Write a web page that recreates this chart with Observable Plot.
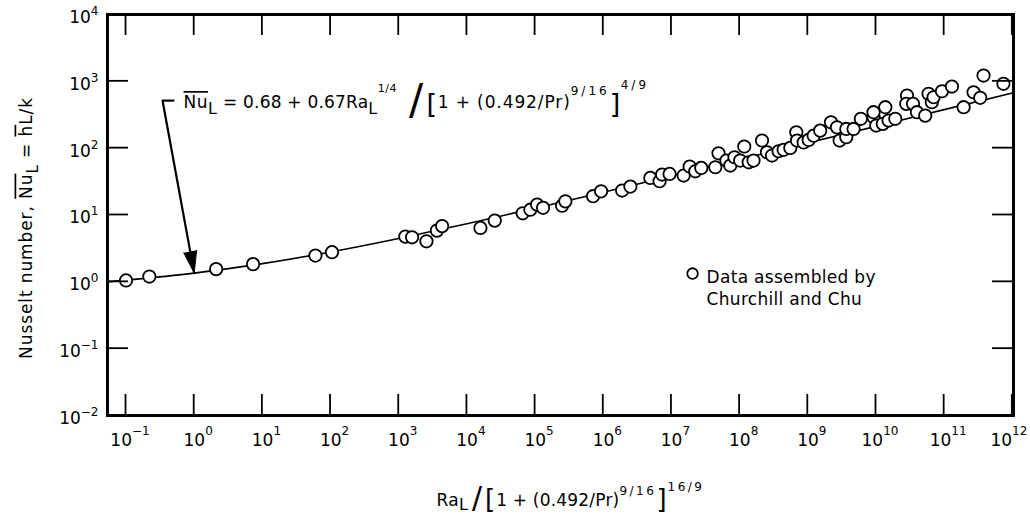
<!DOCTYPE html>
<html>
<head>
<meta charset="utf-8">
<script src="https://cdn.jsdelivr.net/npm/d3@7"></script>
<script src="https://cdn.jsdelivr.net/npm/@observablehq/plot@0.6"></script>
<style>
  html, body { margin: 0; padding: 0; background: #fff; }
  #chart svg { display: block; }
</style>
</head>
<body>
<div id="chart"></div>
<script>
// ---- data ----
const raValues = [0.1, 0.22, 2.1, 7.3, 60, 105, 1250, 1570, 2550, 3630, 4330, 15800, 25600, 65800, 85300, 107000, 131000, 249000, 278000, 708000, 929000, 1.89e6, 2.5e6,
  4.9e6, 6.7e6, 7.3e6, 9.4e6,
  1.51e7, 1.85e7, 2.24e7, 2.74e7, 4.4e7, 4.9e7, 6.4e7, 7.3e7, 8.4e7,
  1.02e8, 1.17e8, 1.36e8, 1.6e8, 2.13e8, 2.52e8, 2.99e8, 3.73e8, 4.42e8, 5.54e8, 6.78e8, 6.95e8, 8.7e8,
  1.03e9, 1.22e9, 1.52e9, 2.19e9, 2.68e9, 2.93e9, 3.67e9, 3.67e9, 4.69e9, 6.0e9, 9.2e9, 9.2e9,
  1.01e10, 1.26e10, 1.37e10, 1.53e10, 1.92e10, 2.85e10, 2.78e10, 3.49e10, 3.99e10, 5.28e10, 5.9e10, 6.6e10, 7.0e10, 9.3e10,
  1.3e11, 1.93e11, 2.7e11, 3.38e11, 3.78e11, 7.4e11];
const nuValues = [1.05, 1.2, 1.55, 1.84, 2.47, 2.78, 4.75, 4.64, 4.04, 5.84, 6.82, 6.41, 8.24, 10.6, 12.0, 14.3, 12.8, 13.8, 16.0, 19.1, 22.6, 23.2, 26.6,
  35.9, 32, 40.3, 41.2,
  38.9, 53.1, 45.1, 50.7, 51.8, 83.9, 65.2, 54.9, 73.1,
  65.2, 106, 61.5, 65.2, 130, 86.8, 77.5, 89.9, 94.4, 101, 173, 130, 122,
  133, 154, 183, 244, 205, 130, 146, 194, 194, 275, 290, 345,
  218, 231, 410, 259, 275, 613, 460, 460, 345, 307, 650, 487, 578, 711,
  836, 410, 687, 566, 1220, 918];

// correlation curve
const fitRa = [0.0535, 0.1, 1, 10, 100, 1e3, 1e4, 1e5, 1e6, 1e7, 1e8, 1e9, 1e10, 1e11, 1.04e12];
const fitNu = [1.0, 1.06, 1.35, 1.87, 2.80, 4.45, 7.4, 12.6, 21.9, 38.4, 67.7, 120, 212, 377, 676];

// axes
const xTicks = [1e-1, 1e0, 1e1, 1e2, 1e3, 1e4, 1e5, 1e6, 1e7, 1e8, 1e9, 1e10, 1e11, 1e12];
const xTickExps = ["\u22121", "0", "1", "2", "3", "4", "5", "6", "7", "8", "9", "10", "11", "12"];
const yTicks = [1e-2, 1e-1, 1e0, 1e1, 1e2, 1e3, 1e4];
const yTickExps = ["\u22122", "\u22121", "0", "1", "2", "3", "4"];
const xDomain = [0.0535, 1.04e12];
const yDomain = [1e-2, 1e4];

// annotations (data space)
const arrowPath = [{x: 0.497, y: 516}, {x: 0.343, y: 516}, {x: 1.0, y: 1.35}];
const legendAnchor = [{x: 2.04e7, y: 1.33}];
const legendText = "Data assembled by\nChurchill and Chu";

// rich text segments
const yTitleSegs = [{t: "Nusselt number, "}, {t: "Nu", over: true}, {t: "L", shift: 6, size: 15}, {t: " = "}, {t: "h", over: true}, {t: "L/k"}];
const xTitleSegs = [{t: "Ra", ls: 0.3}, {t: "L", shift: 4, size: 16}, {t: "/", size: 30, shift: 2, dx: 3}, {t: "[", size: 26, shift: 2, dx: 2}, {t: "1 + (0.492/Pr)", ls: 0.2}, {t: "9/16", shift: -11, size: 12, ls: 2.5}, {t: "]", size: 26, shift: 2}, {t: "16/9", shift: -15, size: 12, ls: 2.5}];
const formulaSegs = [{t: "Nu", over: true}, {t: "L", shift: 6, size: 16}, {t: " = 0.68 + 0.67Ra", ls: 0.2}, {t: "L", shift: 6, size: 16}, {t: "1/4", shift: -16, size: 11}, {t: "/", size: 42, shift: 6, dx: 12}, {t: "[", size: 27, shift: 5, dx: 3}, {t: "1 + (0.492/Pr)", ls: 0.9}, {t: "9/16", shift: -13, size: 12, ls: 3}, {t: "]", size: 27, shift: 5}, {t: "4/9", shift: -19, size: 12, ls: 3}];
const plain = segs => segs.map(s => s.t).join("");

const points = raValues.map((x, i) => ({x, y: nuValues[i]}));
const fit = fitRa.map((x, i) => ({x, y: fitNu[i]}));
const xLab = new Map(xTicks.map((v, i) => [v, xTickExps[i]]));
const yLab = new Map(yTicks.map((v, i) => [v, yTickExps[i]]));

const W = 1030, H = 516, ML = 107, MR = 17, MT = 14, MB = 101;
const tickLen = 21;

const plot = Plot.plot({
  width: W, height: H,
  marginLeft: ML, marginRight: MR, marginTop: MT, marginBottom: MB,
  style: {fontFamily: "DejaVu Sans", fontSize: "17px", color: "black", background: "white"},
  x: {type: "log", domain: xDomain},
  y: {type: "log", domain: yDomain},
  marks: [
    Plot.axisX({ticks: xTicks, tickSize: 0, tickPadding: 18, dx: 4, label: null, tickFormat: d => "10^" + xLab.get(d)}),
    Plot.axisY({ticks: yTicks, tickSize: 0, tickPadding: 9, dy: 3, label: null, tickFormat: d => "10^" + yLab.get(d)}),
    // correlation line
    Plot.line(fit, {x: "x", y: "y", curve: "monotone-x", stroke: "black", strokeWidth: 1.6}),
    // data
    Plot.dot(points, {x: "x", y: "y", r: 6.2, fill: "white", stroke: "black", strokeWidth: 1.8}),
    // arrow annotation
    Plot.line(arrowPath, {x: "x", y: "y", stroke: "black", strokeWidth: 2.2}),
    Plot.vector([arrowPath[2]], {x: "x", y: "y", length: 22, r: 6.5, rotate: 169.6, shape: "spike", anchor: "end", fill: "black", stroke: "black", strokeWidth: 1}),
    Plot.text([arrowPath[1]], {x: "x", y: "y", text: () => plain(formulaSegs), textAnchor: "start", dx: 21, dy: 2}),
    // legend
    Plot.dot(legendAnchor, {x: "x", y: "y", r: 5.3, fill: "white", stroke: "black", strokeWidth: 1.8}),
    Plot.text(legendAnchor, {x: "x", y: "y", text: () => legendText, textAnchor: "start", lineAnchor: "top", lineHeight: 1.3, dx: 14, dy: -6}),
    // axis titles
    Plot.text([plain(yTitleSegs)], {frameAnchor: "left", text: d => d, rotate: -90, textAnchor: "middle", lineAnchor: "middle", dx: -81.4, dy: 13}),
    Plot.text([plain(xTitleSegs)], {frameAnchor: "bottom", text: d => d, textAnchor: "middle", lineAnchor: "middle", dx: 10, dy: 84.6}),
    Plot.frame({stroke: "black", strokeWidth: 3})
  ]
});

// ---- inward ticks on all four sides, placed with the plot's own scales ----
const sx = plot.scale("x"), sy = plot.scale("y");
const tg = d3.select(plot).append("g").attr("aria-label", "inward ticks").attr("stroke", "black").attr("stroke-width", 1.8);
const frameL = ML, frameR = W - MR, frameT = MT, frameB = H - MB;
for (const v of xTicks) {
  const px = sx.apply(v);
  tg.append("line").attr("x1", px).attr("x2", px).attr("y1", frameB).attr("y2", frameB - tickLen);
  tg.append("line").attr("x1", px).attr("x2", px).attr("y1", frameT).attr("y2", frameT + tickLen);
}
for (const v of yTicks) {
  const py = sy.apply(v);
  tg.append("line").attr("y1", py).attr("y2", py).attr("x1", frameL).attr("x2", frameL + tickLen);
  tg.append("line").attr("y1", py).attr("y2", py).attr("x1", frameR).attr("x2", frameR - tickLen);
}

// ---- rich text post-processing (superscripts, subscripts, overlines) ----
const NS = "http://www.w3.org/2000/svg";
function rich(el, segs, spacing) {
  while (el.firstChild) el.removeChild(el.firstChild);
  if (spacing != null) el.setAttribute("letter-spacing", spacing);
  let cur = 0;
  for (const s of segs) {
    const ts = document.createElementNS(NS, "tspan");
    const shift = s.shift || 0;
    if (shift !== cur) ts.setAttribute("dy", shift - cur);
    cur = shift;
    if (s.size) ts.setAttribute("font-size", s.size);
    if (s.dx) ts.setAttribute("dx", s.dx);
    if (s.ls != null) ts.setAttribute("letter-spacing", s.ls);
    if (s.over) ts.setAttribute("style", "text-decoration: overline");
    ts.textContent = s.t;
    el.appendChild(ts);
  }
}
const richMap = new Map([
  [plain(yTitleSegs), [yTitleSegs, 0.9]],
  [plain(xTitleSegs), [xTitleSegs, 1.0]],
  [plain(formulaSegs), [formulaSegs, 0.5]]
]);
plot.querySelectorAll("text").forEach(el => {
  const s = el.textContent;
  if (richMap.has(s)) { const [segs, sp] = richMap.get(s); rich(el, segs, sp); }
  else if (s === legendText.replace("\n", "")) { el.setAttribute("letter-spacing", 0.3); }
});
plot.querySelectorAll('g[aria-label="x-axis tick label"] text').forEach(el => {
  const [base, exp] = el.textContent.split("^");
  rich(el, [{t: base}, {t: exp, shift: -11, size: 12}]);
  if (exp === xTickExps[xTickExps.length - 1]) { el.setAttribute("text-anchor", "end"); el.setAttribute("dx", 11); }
});
plot.querySelectorAll('g[aria-label="y-axis tick label"] text').forEach(el => {
  const [base, exp] = el.textContent.split("^");
  rich(el, [{t: base}, {t: exp, shift: -8, size: 12}]);
});

document.getElementById("chart").appendChild(plot);
</script>
</body>
</html>
